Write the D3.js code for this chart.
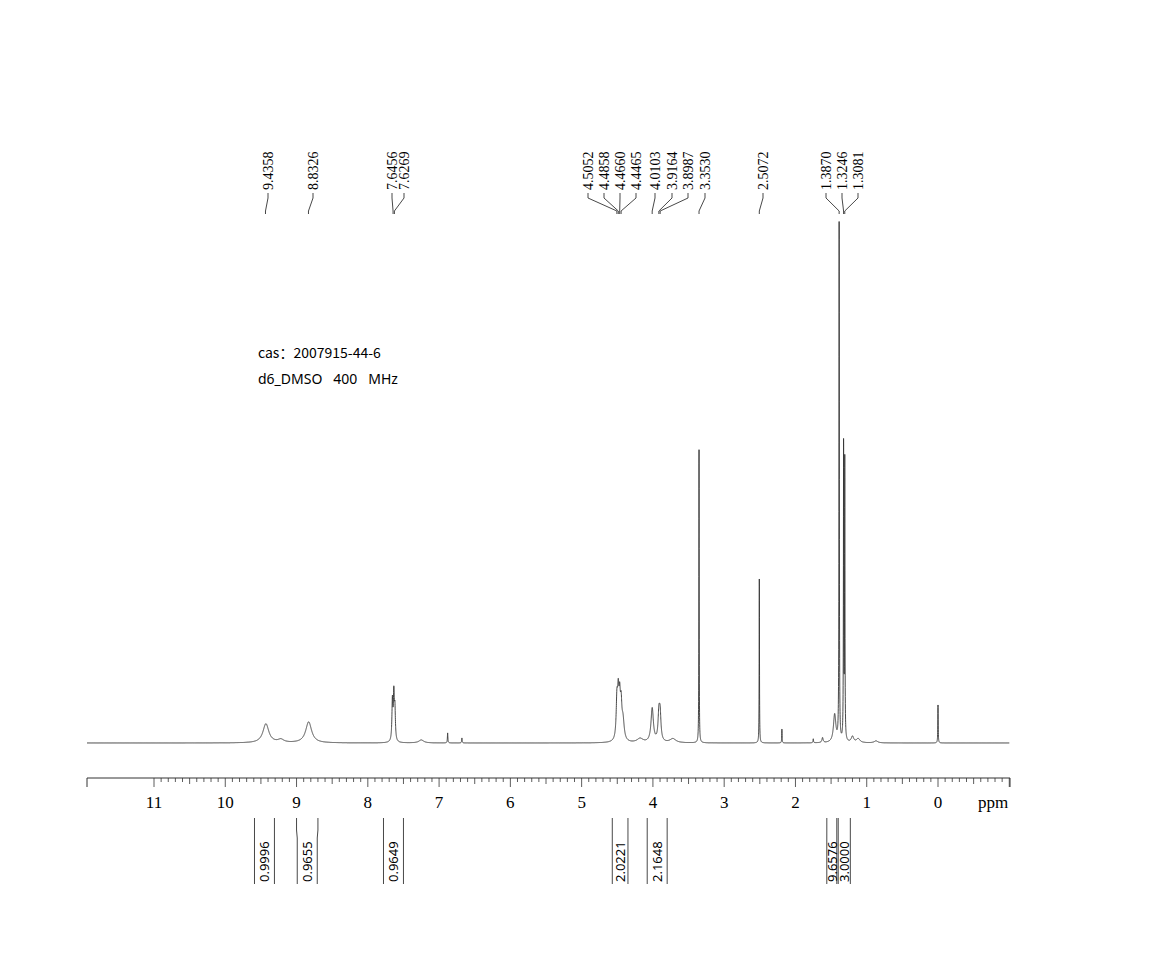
<!DOCTYPE html>
<html><head><meta charset="utf-8">
<script src="https://cdn.jsdelivr.net/npm/d3@7"></script>
<style>body{margin:0;background:#fff}</style></head>
<body><svg id="chart" width="1173" height="953"></svg>
<script>
// peaks: ppm, height (px above baseline), half width (ppm)
const peakPpm = [9.43, 9.22, 8.83, 7.655, 7.635, 7.62, 7.25, 6.88, 6.68, 4.505, 4.486, 4.466, 4.446, 4.42, 4.18, 4.01, 3.916, 3.899, 3.72, 3.353, 2.507, 2.19, 1.75, 1.62, 1.45, 1.387, 1.3246, 1.3081, 1.2, 1.12, 0.87, 0.0];
const peakHeight = [19, 3, 21, 40, 45, 30, 3, 10, 5, 38, 40, 36, 30, 20, 4, 34, 26, 26, 4, 295, 165, 14, 4, 5, 28, 520, 295, 278, 6, 4, 2, 38];
const peakWidth = [0.05, 0.05, 0.05, 0.008, 0.008, 0.008, 0.04, 0.004, 0.004, 0.012, 0.012, 0.012, 0.012, 0.02, 0.05, 0.02, 0.014, 0.014, 0.05, 0.0025, 0.0025, 0.003, 0.004, 0.01, 0.02, 0.003, 0.003, 0.003, 0.02, 0.03, 0.03, 0.003];

const tickPpm = [11, 10, 9, 8, 7, 6, 5, 4, 3, 2, 1, 0];
const peakLabels = ['9.4358', '8.8326', '7.6456', '7.6269', '4.5052', '4.4858', '4.4660', '4.4465', '4.0103', '3.9164', '3.8987', '3.3530', '2.5072', '1.3870', '1.3246', '1.3081'];
const labelX = [268, 313, 392, 404, 588, 604, 620, 636, 655, 672, 688, 705, 763, 826, 842, 858];
const integralFrom = [9.59, 9.0, 7.78, 4.57, 4.08, 1.56, 1.40];
const integralTo = [9.31, 8.70, 7.50, 4.35, 3.80, 1.42, 1.23];
const integralValues = ['0.9996', '0.9655', '0.9649', '2.0221', '2.1648', '9.6576', '3.0000'];

const svg = d3.select('#chart');
const baseY = 743, axisY = 778;
const x = d3.scaleLinear().domain([11, 0]).range([154, 938]);
const y = d3.scaleLinear().domain([0, 600]).range([baseY, baseY - 600]);

// spectrum as sum of lorentzians
const pts = [];
for (let p = 11.94; p >= -1.0; p -= 0.0008) {
	let s = 0;
	for (let i = 0; i < peakPpm.length; i++) {
		const d = (p - peakPpm[i]) / peakWidth[i];
		s += peakHeight[i] / (1 + d * d);
	}
	pts.push([p, s]);
}
svg.append('path').datum(pts)
	.attr('fill', 'none').attr('stroke', '#333').attr('stroke-width', 0.9)
	.attr('d', d3.line().x(d => x(d[0])).y(d => y(d[1])));

// axis
const ax = d3.scaleLinear().domain([11.94, -1.0]).range([87, 1010]);
svg.append('line').attr('x1', 87).attr('x2', 1010).attr('y1', axisY).attr('y2', axisY).attr('stroke', '#333');
for (let t = 110; t >= -10; t--) {
	const p = t / 10;
	const major = t % 10 === 0, mid = t % 5 === 0;
	svg.append('line').attr('x1', x(p)).attr('x2', x(p)).attr('y1', axisY)
		.attr('y2', axisY + (major ? 9 : mid ? 6 : 4)).attr('stroke', '#333').attr('stroke-width', 0.8);
}
svg.append('line').attr('x1', 87).attr('x2', 87).attr('y1', axisY).attr('y2', axisY + 9).attr('stroke', '#333');
svg.append('line').attr('x1', 1010).attr('x2', 1010).attr('y1', axisY).attr('y2', axisY + 9).attr('stroke', '#333');
svg.selectAll('.tick-label').data(tickPpm).enter().append('text')
	.attr('x', d => x(d)).attr('y', 808).attr('text-anchor', 'middle')
	.attr('font-family', 'Liberation Serif').attr('font-size', 17).text(d => d);
svg.append('text').attr('x', 993).attr('y', 808).attr('text-anchor', 'middle')
	.attr('font-family', 'Liberation Serif').attr('font-size', 17).text('ppm');

// peak labels
const peakPos = [9.4358, 8.8326, 7.6456, 7.6269, 4.5052, 4.4858, 4.4660, 4.4465, 4.0103, 3.9164, 3.8987, 3.3530, 2.5072, 1.3870, 1.3246, 1.3081];
peakLabels.forEach((lab, i) => {
	const lx = labelX[i], px = x(peakPos[i]);
	svg.append('text').attr('transform', `translate(${lx + 5},190) rotate(-90)`)
		.attr('font-family', 'Liberation Serif').attr('font-size', 14).text(lab);
	svg.append('path').attr('fill', 'none').attr('stroke', '#333').attr('stroke-width', 0.9)
		.attr('d', `M${lx},193 L${lx},198 L${px},211 L${px},214`);
});

// sample info
svg.append('text').attr('x', 258).attr('y', 358).attr('font-family', 'Noto Sans CJK SC').attr('font-size', 14).text('cas：2007915-44-6');
svg.append('text').attr('x', 258).attr('y', 384).attr('font-family', 'Noto Sans').attr('font-size', 14).attr('xml:space', 'preserve').text('d6_DMSO   400   MHz');

// integrals
integralValues.forEach((v, i) => {
	const a = x(integralFrom[i]), b = x(integralTo[i]);
	const c = (a + b) / 2;
	const w = Math.max(5, Math.min(10, (b - a) / 2));
	svg.append('path').attr('fill', 'none').attr('stroke', '#333').attr('stroke-width', 0.9)
		.attr('d', `M${a},818 L${a},830 L${c - w},838 L${c - w},884 M${b},818 L${b},830 L${c + w},838 L${c + w},884`);
	svg.append('text').attr('transform', `translate(${c + 5},882) rotate(-90)`)
		.attr('font-family', 'Noto Sans').attr('font-size', 13).text(v);
});
</script></body></html>
